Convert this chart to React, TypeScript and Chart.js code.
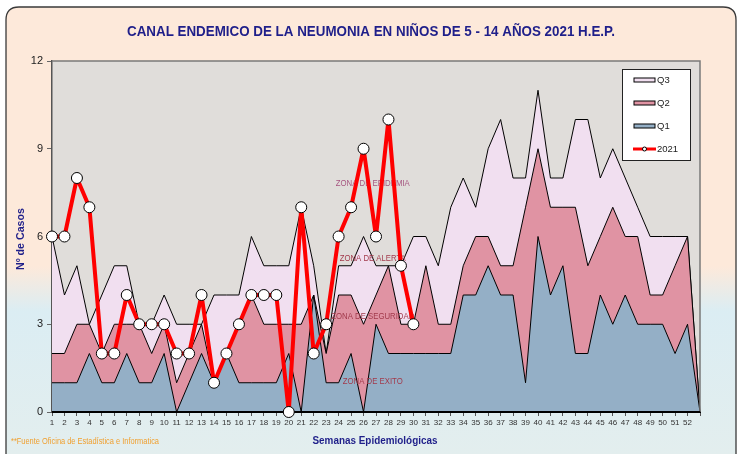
import React, { useEffect, useRef } from 'react';
import { Chart, registerables } from 'chart.js';
Chart.register(...registerables);

const weekLabels = ['1','2','3','4','5','6','7','8','9','10','11','12','13','14','15','16','17','18','19','20','21','22','23','24','25','26','27','28','29','30','31','32','33','34','35','36','37','38','39','40','41','42','43','44','45','46','47','48','49','50','51','52',''];

const q3 = [6,4,5,3,4,5,5,3,3,4,3,3,3,4,4,4,6,5,5,5,7,5,2,5,5,6,5,5,5,6,6,5,7,8,7,9,10,8,8,11,8,8,10,10,8,9,8,7,6,6,6,6,0];
const q2 = [2,2,3,3,2,3,3,3,2,3,1,2,3,1,2,3,4,3,3,3,3,4,2,4,4,3,4,5,3,3,5,3,3,5,6,6,5,5,7,9,7,7,7,5,6,7,6,6,4,4,5,6,0];
const q1 = [1,1,1,2,1,1,2,1,1,2,0,1,2,1,2,1,1,1,1,2,0,4,1,1,2,0,3,2,2,2,2,2,2,4,4,5,4,4,1,6,4,5,2,2,4,3,4,3,3,3,2,3,0];
const cases2021 = [6,6,8,7,2,2,4,3,3,3,2,2,4,1,2,3,4,4,4,0,7,2,3,6,7,9,6,10,5,3];

const yTicks = [0, 3, 6, 9, 12];
const legendNames = ['Q3', 'Q2', 'Q1', '2021'];
const zoneNames = ['ZONA DE EPIDEMIA', 'ZONA DE ALERTA', 'ZONA DE SEGURIDAD', 'ZONA DE EXITO'];

const TITLE = 'CANAL ENDEMICO DE LA NEUMONIA EN NIÑOS DE 5 - 14 AÑOS 2021 H.E.P.';
const X_TITLE = 'Semanas Epidemiológicas';
const Y_TITLE = 'Nº de Casos';
const FOOTNOTE = '**Fuente Oficina de Estadística e Informatica';

const C_Q3 = '#f1dff0';
const C_Q2 = '#e093a3';
const C_Q1 = '#94afc6';
const C_PLOT = '#e0dddA';
const NAVY = '#1f1f8a';

function fitText(ctx: CanvasRenderingContext2D, text: string, x: number, y: number, width: number, font: string, color: string, align: CanvasTextAlign = 'center', rotate = 0) {
  ctx.save();
  ctx.font = font;
  ctx.fillStyle = color;
  ctx.textBaseline = 'middle';
  ctx.textAlign = align;
  const w = ctx.measureText(text).width;
  ctx.translate(x, y);
  if (rotate) ctx.rotate(rotate);
  ctx.scale(width / w, 1);
  ctx.fillText(text, 0, 0);
  ctx.restore();
}

const decorPlugin = {
  id: 'decor',
  beforeDraw(chart: any) {
    const ctx: CanvasRenderingContext2D = chart.ctx;
    const W = chart.width, H = chart.height;
    ctx.save();
    ctx.fillStyle = '#ffffff';
    ctx.fillRect(0, 0, W, H);
    const x0 = 6, y0 = 7, x1 = 736, y1 = H + 20, r = 13;
    const g = ctx.createLinearGradient(0, y0, 0, H);
    g.addColorStop(0, '#fde9da');
    g.addColorStop(0.58, '#fde9da');
    g.addColorStop(0.68, '#dbedf3');
    g.addColorStop(1, '#e3eeee');
    ctx.beginPath();
    ctx.moveTo(x0 + r, y0);
    ctx.lineTo(x1 - r, y0);
    ctx.quadraticCurveTo(x1, y0, x1, y0 + r);
    ctx.lineTo(x1, y1);
    ctx.lineTo(x0, y1);
    ctx.lineTo(x0, y0 + r);
    ctx.quadraticCurveTo(x0, y0, x0 + r, y0);
    ctx.closePath();
    ctx.fillStyle = g;
    ctx.fill();
    ctx.strokeStyle = '#3a3a3a';
    ctx.lineWidth = 1.3;
    ctx.stroke();
    const a = chart.chartArea;
    ctx.fillStyle = C_PLOT;
    ctx.fillRect(a.left, a.top, a.right - a.left, a.bottom - a.top);
    ctx.restore();
  },
  beforeDatasetDraw(chart: any, args: any) {
    if (args.index !== 3) return;
    const ctx: CanvasRenderingContext2D = chart.ctx;
    const a = chart.chartArea;
    ctx.save();
    ctx.strokeStyle = '#7a7a7a';
    ctx.lineWidth = 1.5;
    ctx.beginPath();
    ctx.moveTo(a.left, a.top);
    ctx.lineTo(a.right, a.top);
    ctx.lineTo(a.right, a.bottom);
    ctx.stroke();
    ctx.strokeStyle = '#000';
    ctx.lineWidth = 2;
    ctx.beginPath();
    ctx.moveTo(a.left, a.bottom);
    ctx.lineTo(a.right, a.bottom);
    ctx.stroke();
    ctx.restore();

    const xs = chart.scales.x, ys = chart.scales.y;
    const spots = [
      { v: 7.8, c: '#a65680' },
      { v: 5.25, c: '#a23a4c' },
      { v: 3.27, c: '#a23a4c' },
      { v: 1.05, c: '#a23a4c' },
    ];
    const widths = [74, 66, 83, 60];
    const xc = xs.getPixelForValue(25.5);
    zoneNames.forEach((name, i) => {
      fitText(ctx, name, xc + 3, ys.getPixelForValue(spots[i].v), widths[i], '8.5px "Liberation Sans", Arial, sans-serif', spots[i].c);
    });
  },
  afterDraw(chart: any) {
    const ctx: CanvasRenderingContext2D = chart.ctx;
    fitText(ctx, TITLE, 371, 32, 488, 'bold 15px "Liberation Sans", Arial, sans-serif', NAVY);
    fitText(ctx, X_TITLE, 375, 441, 125, 'bold 11px "Liberation Sans", Arial, sans-serif', NAVY);
    fitText(ctx, Y_TITLE, 21, 239, 62, 'bold 11px "Liberation Sans", Arial, sans-serif', NAVY, 'center', -Math.PI / 2);
    fitText(ctx, FOOTNOTE, 11, 441, 148, '9.5px "Liberation Sans", Arial, sans-serif', '#f0a030', 'left');

    ctx.save();
    const lx = 622, ly = 69, lw = 68, lh = 91;
    ctx.fillStyle = '#ffffff';
    ctx.fillRect(lx, ly, lw, lh);
    ctx.strokeStyle = '#222';
    ctx.lineWidth = 1;
    ctx.strokeRect(lx + 0.5, ly + 0.5, lw, lh);
    const rowY = [80, 103, 126, 149];
    const cols = [C_Q3, C_Q2, C_Q1];
    legendNames.forEach((name, i) => {
      const y = rowY[i];
      if (i < 3) {
        ctx.fillStyle = cols[i];
        ctx.fillRect(634, y - 2, 21, 4);
        ctx.strokeStyle = '#000';
        ctx.lineWidth = 1;
        ctx.strokeRect(634, y - 2, 21, 4);
      } else {
        ctx.strokeStyle = '#ff0000';
        ctx.lineWidth = 3;
        ctx.beginPath();
        ctx.moveTo(633, y);
        ctx.lineTo(656, y);
        ctx.stroke();
        ctx.beginPath();
        ctx.arc(644.5, y, 2, 0, Math.PI * 2);
        ctx.fillStyle = '#fff';
        ctx.fill();
        ctx.strokeStyle = '#000';
        ctx.lineWidth = 1;
        ctx.stroke();
      }
      ctx.fillStyle = '#222';
      ctx.font = '9.5px "Liberation Sans", Arial, sans-serif';
      ctx.textAlign = 'left';
      ctx.textBaseline = 'middle';
      ctx.fillText(name, 657, y);
    });
    ctx.restore();
  },
};

export default function App() {
  const ref = useRef<HTMLCanvasElement | null>(null);
  useEffect(() => {
    if (!ref.current) return;
    const areaDs = (label: string, data: number[], color: string, order: number) => ({
      label,
      data,
      backgroundColor: color,
      borderColor: '#000000',
      borderWidth: 1,
      pointRadius: 0,
      fill: 'origin',
      tension: 0,
      order,
    });
    const chart = new Chart(ref.current, {
      type: 'line',
      data: {
        labels: weekLabels,
        datasets: [
          areaDs(legendNames[0], q3, C_Q3, 3) as any,
          areaDs(legendNames[1], q2, C_Q2, 2) as any,
          areaDs(legendNames[2], q1, C_Q1, 1) as any,
          {
            label: legendNames[3],
            data: cases2021,
            borderColor: '#ff0000',
            borderWidth: 4,
            borderJoinStyle: 'round',
            borderCapStyle: 'round',
            pointRadius: 5.5,
            pointBackgroundColor: '#ffffff',
            pointBorderColor: '#000000',
            pointBorderWidth: 1,
            fill: false,
            tension: 0,
            clip: false,
            order: 0,
          } as any,
        ],
      },
      options: {
        animation: false,
        responsive: false,
        devicePixelRatio: 1,
        layout: { padding: { top: 61, left: 0, right: 38, bottom: 22 } },
        plugins: {
          legend: { display: false },
          tooltip: { enabled: false },
          title: { display: false },
        },
        scales: {
          x: {
            type: 'category',
            offset: false,
            afterFit: (s: any) => { s.height = 20; },
            grid: { display: true, drawOnChartArea: false, drawTicks: true, tickLength: 4, color: '#555' },
            border: { display: true, color: '#000', width: 2 },
            ticks: {
              autoSkip: false,
              maxRotation: 0,
              minRotation: 0,
              padding: 2,
              color: '#333',
              font: { size: 8, family: '"Liberation Sans", Arial, sans-serif' },
            },
          },
          y: {
            min: 0,
            max: 12,
            afterFit: (s: any) => { s.width = 52; },
            afterBuildTicks: (s: any) => { s.ticks = yTicks.map((v) => ({ value: v })); },
            grid: { display: true, drawOnChartArea: false, drawTicks: true, tickLength: 5, color: '#666' },
            border: { display: true, color: '#555', width: 1.5 },
            ticks: {
              padding: 4,
              color: '#222',
              font: { size: 11, family: '"Liberation Sans", Arial, sans-serif' },
            },
          },
        },
      },
      plugins: [decorPlugin],
    });
    return () => chart.destroy();
  }, []);
  return (
    <div style={{ position: 'absolute', left: 0, top: 0, width: 738, height: 454 }}>
      <canvas ref={ref} width={738} height={454} />
    </div>
  );
}
